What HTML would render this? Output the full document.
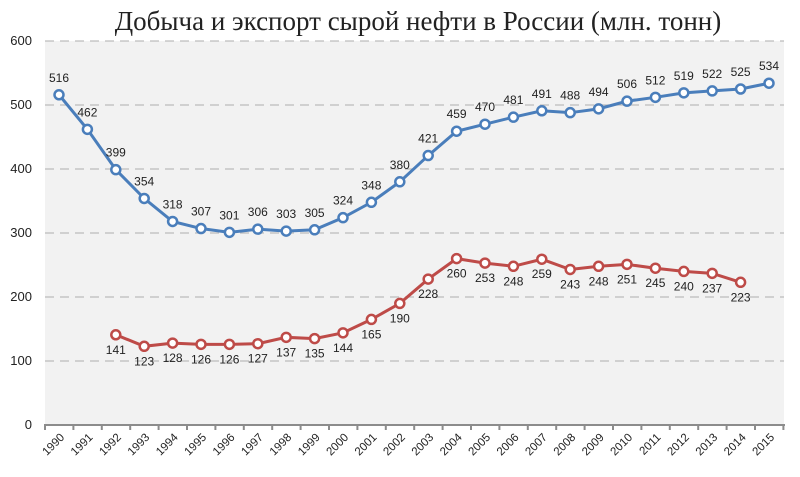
<!DOCTYPE html>
<html><head><meta charset="utf-8"><style>body{margin:0;background:#fff}svg{display:block}
.b{fill:#fff;stroke:#4a7ebb;stroke-width:2.5}.r{fill:#fff;stroke:#be4b48;stroke-width:2.5}
.l text{font-size:12px;fill:#222;text-anchor:middle}</style></head><body>
<svg width="800" height="477" xmlns="http://www.w3.org/2000/svg" font-family="Liberation Sans, sans-serif">
<text x="418" y="30" text-anchor="middle" font-family="Liberation Serif, serif" font-size="27" fill="#222">Добыча и экспорт сырой нефти в России (млн. тонн)</text>
<rect x="45" y="41" width="739" height="384" fill="#f2f2f2"/>
<g stroke="#bdbdbd" stroke-width="1.2" stroke-dasharray="9,6">
<line x1="45" y1="41" x2="784" y2="41"/><line x1="45" y1="105" x2="784" y2="105"/><line x1="45" y1="169" x2="784" y2="169"/><line x1="45" y1="233" x2="784" y2="233"/><line x1="45" y1="297" x2="784" y2="297"/><line x1="45" y1="361" x2="784" y2="361"/>
</g>
<g font-size="13" fill="#222" text-anchor="end">
<text x="32" y="45">600</text><text x="32" y="109">500</text><text x="32" y="173">400</text><text x="32" y="237">300</text><text x="32" y="301">200</text><text x="32" y="365">100</text><text x="32" y="429">0</text>
</g>
<line x1="44" y1="425" x2="785" y2="425" stroke="#8c8c8c" stroke-width="2"/>
<g stroke="#8c8c8c" stroke-width="2">
<line x1="45" y1="425" x2="45" y2="430"/><line x1="73.4" y1="425" x2="73.4" y2="430"/><line x1="101.8" y1="425" x2="101.8" y2="430"/><line x1="130.2" y1="425" x2="130.2" y2="430"/><line x1="158.6" y1="425" x2="158.6" y2="430"/><line x1="187" y1="425" x2="187" y2="430"/><line x1="215.4" y1="425" x2="215.4" y2="430"/><line x1="243.8" y1="425" x2="243.8" y2="430"/><line x1="272.2" y1="425" x2="272.2" y2="430"/><line x1="300.6" y1="425" x2="300.6" y2="430"/><line x1="329" y1="425" x2="329" y2="430"/><line x1="357.4" y1="425" x2="357.4" y2="430"/><line x1="385.8" y1="425" x2="385.8" y2="430"/><line x1="414.2" y1="425" x2="414.2" y2="430"/><line x1="442.6" y1="425" x2="442.6" y2="430"/><line x1="471" y1="425" x2="471" y2="430"/><line x1="499.4" y1="425" x2="499.4" y2="430"/><line x1="527.8" y1="425" x2="527.8" y2="430"/><line x1="556.2" y1="425" x2="556.2" y2="430"/><line x1="584.6" y1="425" x2="584.6" y2="430"/><line x1="613" y1="425" x2="613" y2="430"/><line x1="641.4" y1="425" x2="641.4" y2="430"/><line x1="669.8" y1="425" x2="669.8" y2="430"/><line x1="698.2" y1="425" x2="698.2" y2="430"/><line x1="726.6" y1="425" x2="726.6" y2="430"/><line x1="755" y1="425" x2="755" y2="430"/><line x1="783.4" y1="425" x2="783.4" y2="430"/>
</g>
<g font-size="11.5" fill="#222" text-anchor="end">
<text transform="translate(65,438) rotate(-45)">1990</text>
<text transform="translate(93.4,438) rotate(-45)">1991</text>
<text transform="translate(121.8,438) rotate(-45)">1992</text>
<text transform="translate(150.2,438) rotate(-45)">1993</text>
<text transform="translate(178.6,438) rotate(-45)">1994</text>
<text transform="translate(207,438) rotate(-45)">1995</text>
<text transform="translate(235.4,438) rotate(-45)">1996</text>
<text transform="translate(263.8,438) rotate(-45)">1997</text>
<text transform="translate(292.2,438) rotate(-45)">1998</text>
<text transform="translate(320.6,438) rotate(-45)">1999</text>
<text transform="translate(349,438) rotate(-45)">2000</text>
<text transform="translate(377.4,438) rotate(-45)">2001</text>
<text transform="translate(405.8,438) rotate(-45)">2002</text>
<text transform="translate(434.2,438) rotate(-45)">2003</text>
<text transform="translate(462.6,438) rotate(-45)">2004</text>
<text transform="translate(491,438) rotate(-45)">2005</text>
<text transform="translate(519.4,438) rotate(-45)">2006</text>
<text transform="translate(547.8,438) rotate(-45)">2007</text>
<text transform="translate(576.2,438) rotate(-45)">2008</text>
<text transform="translate(604.6,438) rotate(-45)">2009</text>
<text transform="translate(633,438) rotate(-45)">2010</text>
<text transform="translate(661.4,438) rotate(-45)">2011</text>
<text transform="translate(689.8,438) rotate(-45)">2012</text>
<text transform="translate(718.2,438) rotate(-45)">2013</text>
<text transform="translate(746.6,438) rotate(-45)">2014</text>
<text transform="translate(775,438) rotate(-45)">2015</text>
</g>
<polyline fill="none" stroke="#4a7ebb" stroke-width="3" points="59,94.76 87.4,129.32 115.8,169.64 144.2,198.44 172.6,221.48 201,228.52 229.4,232.36 257.8,229.16 286.2,231.08 314.6,229.8 343,217.64 371.4,202.28 399.8,181.8 428.2,155.56 456.6,131.24 485,124.2 513.4,117.16 541.8,110.76 570.2,112.68 598.6,108.84 627,101.16 655.4,97.32 683.8,92.84 712.2,90.92 740.6,89 769,83.24"/>
<polyline fill="none" stroke="#be4b48" stroke-width="3" points="115.8,334.76 144.2,346.28 172.6,343.08 201,344.36 229.4,344.36 257.8,343.72 286.2,337.32 314.6,338.6 343,332.84 371.4,319.4 399.8,303.4 428.2,279.08 456.6,258.6 485,263.08 513.4,266.28 541.8,259.24 570.2,269.48 598.6,266.28 627,264.36 655.4,268.2 683.8,271.4 712.2,273.32 740.6,282.28"/>
<g class="b">
<circle cx="59" cy="94.76" r="4.5"/><circle cx="87.4" cy="129.32" r="4.5"/><circle cx="115.8" cy="169.64" r="4.5"/><circle cx="144.2" cy="198.44" r="4.5"/><circle cx="172.6" cy="221.48" r="4.5"/><circle cx="201" cy="228.52" r="4.5"/><circle cx="229.4" cy="232.36" r="4.5"/><circle cx="257.8" cy="229.16" r="4.5"/><circle cx="286.2" cy="231.08" r="4.5"/><circle cx="314.6" cy="229.8" r="4.5"/><circle cx="343" cy="217.64" r="4.5"/><circle cx="371.4" cy="202.28" r="4.5"/><circle cx="399.8" cy="181.8" r="4.5"/><circle cx="428.2" cy="155.56" r="4.5"/><circle cx="456.6" cy="131.24" r="4.5"/><circle cx="485" cy="124.2" r="4.5"/><circle cx="513.4" cy="117.16" r="4.5"/><circle cx="541.8" cy="110.76" r="4.5"/><circle cx="570.2" cy="112.68" r="4.5"/><circle cx="598.6" cy="108.84" r="4.5"/><circle cx="627" cy="101.16" r="4.5"/><circle cx="655.4" cy="97.32" r="4.5"/><circle cx="683.8" cy="92.84" r="4.5"/><circle cx="712.2" cy="90.92" r="4.5"/><circle cx="740.6" cy="89" r="4.5"/><circle cx="769" cy="83.24" r="4.5"/>
</g>
<g class="r">
<circle cx="115.8" cy="334.76" r="4.5"/><circle cx="144.2" cy="346.28" r="4.5"/><circle cx="172.6" cy="343.08" r="4.5"/><circle cx="201" cy="344.36" r="4.5"/><circle cx="229.4" cy="344.36" r="4.5"/><circle cx="257.8" cy="343.72" r="4.5"/><circle cx="286.2" cy="337.32" r="4.5"/><circle cx="314.6" cy="338.6" r="4.5"/><circle cx="343" cy="332.84" r="4.5"/><circle cx="371.4" cy="319.4" r="4.5"/><circle cx="399.8" cy="303.4" r="4.5"/><circle cx="428.2" cy="279.08" r="4.5"/><circle cx="456.6" cy="258.6" r="4.5"/><circle cx="485" cy="263.08" r="4.5"/><circle cx="513.4" cy="266.28" r="4.5"/><circle cx="541.8" cy="259.24" r="4.5"/><circle cx="570.2" cy="269.48" r="4.5"/><circle cx="598.6" cy="266.28" r="4.5"/><circle cx="627" cy="264.36" r="4.5"/><circle cx="655.4" cy="268.2" r="4.5"/><circle cx="683.8" cy="271.4" r="4.5"/><circle cx="712.2" cy="273.32" r="4.5"/><circle cx="740.6" cy="282.28" r="4.5"/>
</g>
<g class="l">
<text x="59" y="81.76">516</text><text x="87.4" y="116.32">462</text><text x="115.8" y="156.64">399</text><text x="144.2" y="185.44">354</text><text x="172.6" y="208.48">318</text><text x="201" y="215.52">307</text><text x="229.4" y="219.36">301</text><text x="257.8" y="216.16">306</text><text x="286.2" y="218.08">303</text><text x="314.6" y="216.8">305</text><text x="343" y="204.64">324</text><text x="371.4" y="189.28">348</text><text x="399.8" y="168.8">380</text><text x="428.2" y="142.56">421</text><text x="456.6" y="118.24">459</text><text x="485" y="111.2">470</text><text x="513.4" y="104.16">481</text><text x="541.8" y="97.76">491</text><text x="570.2" y="99.68">488</text><text x="598.6" y="95.84">494</text><text x="627" y="88.16">506</text><text x="655.4" y="84.32">512</text><text x="683.8" y="79.84">519</text><text x="712.2" y="77.92">522</text><text x="740.6" y="76">525</text><text x="769" y="70.24">534</text>
<text x="115.8" y="353.76">141</text><text x="144.2" y="365.28">123</text><text x="172.6" y="362.08">128</text><text x="201" y="363.36">126</text><text x="229.4" y="363.36">126</text><text x="257.8" y="362.72">127</text><text x="286.2" y="356.32">137</text><text x="314.6" y="357.6">135</text><text x="343" y="351.84">144</text><text x="371.4" y="338.4">165</text><text x="399.8" y="322.4">190</text><text x="428.2" y="298.08">228</text><text x="456.6" y="277.6">260</text><text x="485" y="282.08">253</text><text x="513.4" y="285.28">248</text><text x="541.8" y="278.24">259</text><text x="570.2" y="288.48">243</text><text x="598.6" y="285.28">248</text><text x="627" y="283.36">251</text><text x="655.4" y="287.2">245</text><text x="683.8" y="290.4">240</text><text x="712.2" y="292.32">237</text><text x="740.6" y="301.28">223</text>
</g>
</svg>
</body></html>
